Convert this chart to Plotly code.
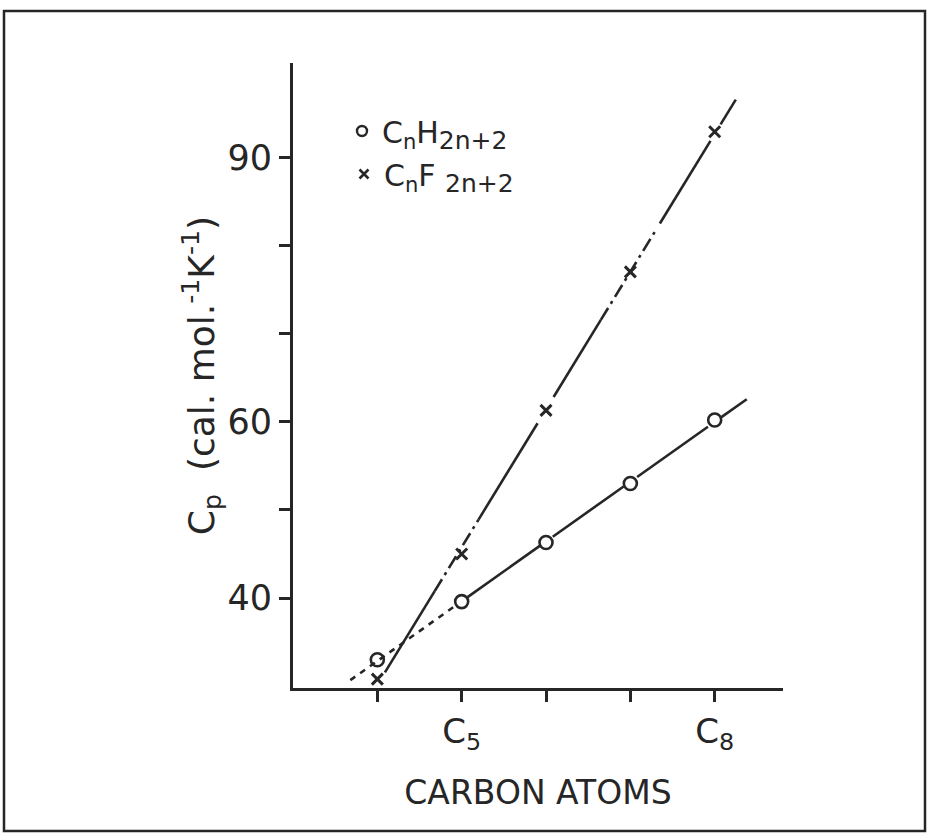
import numpy as np
import plotly.graph_objects as go

# ---- data ----
carbon_atoms = [4, 5, 6, 7, 8]
cp_alkane = [33.0, 39.6, 46.3, 53.0, 60.2]          # CnH2n+2 (open circles)
cp_perfluoro = [30.8, 45.0, 61.3, 77.0, 92.9]       # CnF2n+2 (crosses)

x_tickvals = [4, 5, 6, 7, 8]
x_ticktext = ["", "C<sub>5</sub>", "", "", "C<sub>8</sub>"]
y_tickvals = [40, 50, 60, 70, 80, 90]
y_ticktext = ["40", "", "60", "", "", "90"]

# pieces of the drawn straight lines (x extents) and their stroke style
alkane_line_pieces = [(3.68, 4.93, "dash"), (5.07, 5.93, "solid"),
                      (6.08, 6.92, "solid"), (7.08, 7.92, "solid"),
                      (8.08, 8.38, "solid")]
perfluoro_line_pieces = [(4.09, 4.68, "solid"), (4.68, 5.20, "dashdot"),
                         (5.20, 5.90, "solid"), (6.09, 6.65, "solid"),
                         (6.65, 7.30, "dashdot"), (7.35, 7.95, "solid"),
                         (8.07, 8.25, "solid")]

INK = "#262626"
FONT = "DejaVu Sans"
DASHES = {"dash": "6px,6px", "dashdot": "14px,5px,3px,5px", "solid": "solid"}


def fit_line(xs, ys):
    slope, intercept = np.polyfit(xs, ys, 1)
    return lambda x: slope * x + intercept


fig = go.Figure()

for pieces, xs, ys in [(alkane_line_pieces, carbon_atoms, cp_alkane),
                       (perfluoro_line_pieces, carbon_atoms, cp_perfluoro)]:
    f = fit_line(xs, ys)
    for x0, x1, dash in pieces:
        fig.add_trace(go.Scatter(
            x=[x0, x1], y=[f(x0), f(x1)], mode="lines",
            line=dict(color=INK, width=2.6, dash=DASHES[dash]),
            showlegend=False, hoverinfo="skip"))

fig.add_trace(go.Scatter(
    x=carbon_atoms, y=cp_alkane, mode="markers",
    marker=dict(symbol="circle-open", size=13, color=INK, line=dict(width=2.6)),
    showlegend=False))
fig.add_trace(go.Scatter(
    x=carbon_atoms, y=cp_perfluoro, mode="markers",
    marker=dict(symbol="x-thin-open", size=11, color=INK, line=dict(width=3, color=INK)),
    showlegend=False))

# legend-only entries (one legend per row for exact placement)
fig.add_trace(go.Scatter(
    x=[None], y=[None], mode="markers", legend="legend",
    name="C<sub>n</sub>H<sub><span style='font-size:25px'>2n+2</span></sub>",
    marker=dict(symbol="circle-open", size=10, color=INK, line=dict(width=2.4))))
fig.add_trace(go.Scatter(
    x=[None], y=[None], mode="markers", legend="legend2",
    name="C<sub>n</sub>F <sub><span style='font-size:25px'>2n+2</span></sub>",
    marker=dict(symbol="x-thin-open", size=9, color=INK, line=dict(width=2.6, color=INK))))

L, R, T, B = 293, 148, 63, 150
W, H = 931, 838
pw, ph = W - L - R, H - T - B


def legend_at(px, py):
    return dict(x=(px - L) / pw, y=(H - B - py) / ph, xanchor="left", yanchor="middle",
                bgcolor="rgba(0,0,0,0)", font=dict(size=30, family=FONT, color=INK),
                itemwidth=30)


fig.update_layout(
    width=W, height=H,
    margin=dict(l=L, r=R, t=T, b=B),
    paper_bgcolor="white", plot_bgcolor="white",
    font=dict(family=FONT, color=INK, size=30),
    showlegend=True,
    legend=legend_at(342, 131),
    legend2=legend_at(344, 174),
    xaxis=dict(range=[3.0, 8.81], showgrid=False, zeroline=False,
               showline=True, linecolor=INK, linewidth=3,
               ticks="outside", ticklen=11, tickwidth=3, tickcolor=INK,
               tickvals=x_tickvals, ticktext=x_ticktext,
               ticklabelstandoff=0,
               tickfont=dict(size=34, family=FONT, color=INK),
               title=dict(text="CARBON ATOMS", font=dict(size=33, family=FONT, color=INK),
                          standoff=26)),
    yaxis=dict(range=[29.8, 100.7], showgrid=False, zeroline=False,
               showline=True, linecolor=INK, linewidth=3,
               ticks="outside", ticklen=11, tickwidth=3, tickcolor=INK,
               tickvals=y_tickvals, ticktext=y_ticktext,
               ticklabelstandoff=0,
               tickfont=dict(size=35, family=FONT, color=INK),
               title=dict(text="C<sub>p</sub>  (cal. mol.<sup>-1</sup>K<sup>-1</sup>)",
                          font=dict(size=36, family=FONT, color=INK), standoff=0)),
)

# outer frame around the figure
fig.add_shape(type="rect", xref="paper", yref="paper",
              x0=(4 - L) / pw, x1=(925 - L) / pw,
              y0=(H - B - 831) / ph, y1=(H - B - 11) / ph,
              line=dict(color=INK, width=2.5), fillcolor="rgba(0,0,0,0)", layer="below")

fig.write_html("out.html", config={"displayModeBar": False},
               post_script="document.body.style.margin='0px';")
